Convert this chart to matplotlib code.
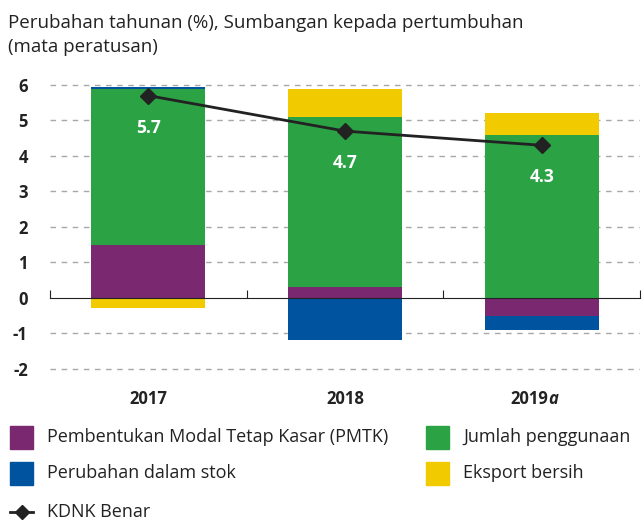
import matplotlib.pyplot as plt
import numpy as np
from matplotlib.patches import Rectangle
from matplotlib.lines import Line2D

plt.rcParams['font.family'] = ['Open Sans', 'DejaVu Sans']

# data (sumbangan kepada pertumbuhan, mata peratusan)
tahun = ["2017", "2018", "2019"]
pmtk = [1.5, 0.3, -0.5]
jumlah = [4.4, 4.8, 4.6]
stok = [0.05, -1.2, -0.4]
eksport = [-0.3, 0.8, 0.6]
kdnk = [5.7, 4.7, 4.3]

nama = ["Pembentukan Modal Tetap Kasar (PMTK)", "Jumlah penggunaan",
        "Perubahan dalam stok", "Eksport bersih"]
warna = ["#7A2870", "#2BA345", "#00539F", "#F2CA00"]
siri = [pmtk, jumlah, stok, eksport]

fig = plt.figure(figsize=(6.42, 5.2), dpi=100)
ax = fig.add_axes([0.078, 0.284, 0.919, 0.573])

x = np.arange(len(tahun))
lebar = 0.58
atas = np.zeros(len(tahun))
bawah = np.zeros(len(tahun))
for s, c in zip(siri, warna):
    s = np.array(s)
    dasar = np.where(s >= 0, atas, bawah)
    ax.bar(x, s, lebar, bottom=dasar, color=c, zorder=2)
    atas = atas + np.where(s >= 0, s, 0)
    bawah = bawah + np.where(s < 0, s, 0)

ax.plot(x, kdnk, color="#222222", lw=2, marker="D", ms=8, zorder=4)
for xi, v in zip(x, kdnk):
    ax.text(xi, v - 0.9, f"{v:.1f}", color="white", ha="center", va="center",
            fontsize=12.5, fontweight="bold", zorder=5)

ax.set_xlim(-0.5, 2.5)
ax.set_ylim(-2.1, 6.3)
ax.set_yticks(range(-2, 7))
ax.set_yticklabels([str(v) for v in range(-2, 7)], fontsize=12, fontweight="bold",
                   color="#222222")
for v in range(-2, 7):
    if v != 0:
        ax.axhline(v, color="#a8a8a8", ls=(0, (4, 4)), lw=1, zorder=1)
ax.tick_params(axis="y", length=0, pad=16)

for sp in ["left", "right", "top"]:
    ax.spines[sp].set_visible(False)
ax.spines["bottom"].set_position(("data", 0))
ax.spines["bottom"].set_color("#222222")
ax.spines["bottom"].set_zorder(3)
ax.set_xticks([-0.5, 0.5, 1.5, 2.5])
ax.set_xticklabels([])
ax.tick_params(axis="x", direction="in", length=6, color="#222222")

label_x = ["2017", "2018", "2019"]
for xi, t in zip(x, label_x):
    ha = "right" if t == "2019" else "center"
    xx = xi + 0.035 if t == "2019" else xi
    tt = ax.text(xx, -0.09, t, transform=ax.get_xaxis_transform(), ha=ha,
                 va="center", fontsize=12, fontweight="bold", color="#222222")
    if t == "2019":
        ax.annotate("a", xy=(1, 0), xycoords=tt, xytext=(0, 0),
                    textcoords="offset points", va="bottom", fontsize=12,
                    fontweight="bold", fontstyle="italic", color="#222222")

fig.text(0.012, 0.955, "Perubahan tahunan (%), Sumbangan kepada pertumbuhan",
         fontsize=13.5, va="center", color="#222222")
fig.text(0.012, 0.910, "(mata peratusan)", fontsize=13.5, va="center", color="#222222")

# legend manual
kedudukan = [(0.016, 0.159), (0.664, 0.159), (0.016, 0.090), (0.664, 0.090)]
for (lx, ly), n, c in zip(kedudukan, nama, warna):
    fig.patches.append(Rectangle((lx, ly - 0.022), 0.035, 0.044, color=c,
                                 transform=fig.transFigure, figure=fig))
    fig.text(lx + 0.057, ly, n, fontsize=13, va="center", color="#222222")
fig.add_artist(Line2D([0.016, 0.034, 0.052], [0.016, 0.016, 0.016], color="#222222",
                      lw=2, marker="D", ms=7, markevery=[1], transform=fig.transFigure))
fig.text(0.073, 0.016, "KDNK Benar", fontsize=13, va="center", color="#222222")

fig.savefig("out.png", dpi=100)
